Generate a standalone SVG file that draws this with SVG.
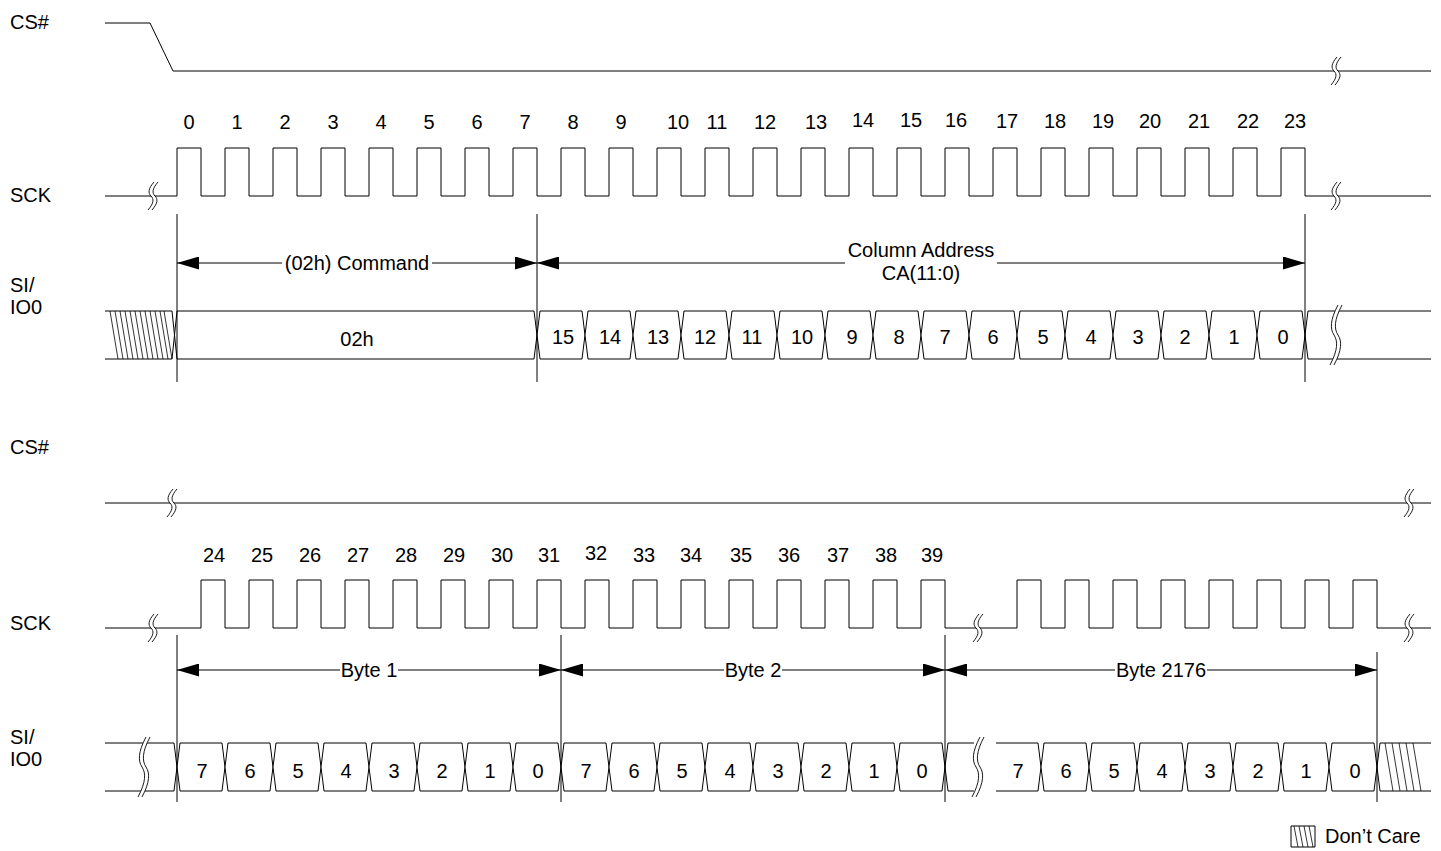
<svg xmlns="http://www.w3.org/2000/svg" width="1441" height="851" viewBox="0 0 1441 851">
<style>
text{font-family:"Liberation Sans",Arial,sans-serif;font-size:20px;fill:#000}
.c{text-anchor:middle}
.w{fill:none;stroke:#000;stroke-width:1}
.cell{fill:#fff;stroke:#000;stroke-width:1}
.v{stroke:#000;stroke-width:1}
.h{stroke:#000;stroke-width:0.8}
.brkfill{fill:#fff;stroke:none}
.brk{fill:none;stroke:#000;stroke-width:0.9}
</style>
<defs>
<marker id="ah" markerWidth="22" markerHeight="13" refX="22" refY="6.5" orient="auto-start-reverse" markerUnits="userSpaceOnUse"><path d="M0,0 L22,6.5 L0,13 Z" fill="#000"/></marker>
<g id="bs">
<path class="brkfill" d="M2,-14 C-4,-7 -4,-3 -1,0 C2,3 2,7 -4,14 L0,14 C6,7 6,3 3,0 C0,-3 0,-7 6,-14 Z"/>
<path class="brk" d="M2,-14 C-4,-7 -4,-3 -1,0 C2,3 2,7 -4,14"/>
<path class="brk" d="M6,-14 C0,-7 0,-3 3,0 C6,3 6,7 0,14"/>
</g>
<g id="bl">
<path class="brkfill" d="M3,-30 C-5,-15 -5,-6 -1,0 C3,6 3,15 -5,30 L-1,30 C7,15 7,6 3,0 C-1,-6 -1,-15 7,-30 Z"/>
<path class="brk" d="M3,-30 C-5,-15 -5,-6 -1,0 C3,6 3,15 -5,30"/>
<path class="brk" d="M7,-30 C-1,-15 -1,-6 3,0 C7,6 7,15 -1,30"/>
</g>
</defs>

<g id="labels">
<text x="10" y="29">CS#</text>
<text x="10" y="202">SCK</text>
<text x="10" y="292">SI/</text>
<text x="10" y="314">IO0</text>
<text x="10" y="454">CS#</text>
<text x="10" y="630">SCK</text>
<text x="10" y="744">SI/</text>
<text x="10" y="766">IO0</text>
</g>

<g id="cs-top">
<path class="w" d="M105,23 H150 L173,71 H1431"/>
<use href="#bs" x="1335" y="71"/>
</g>

<g id="sck-top">
<path class="w" d="M105,196 H177 V148 H201 V196 H225 V148 H249 V196 H273 V148 H297 V196 H321 V148 H345 V196 H369 V148 H393 V196 H417 V148 H441 V196 H465 V148 H489 V196 H513 V148 H537 V196 H561 V148 H585 V196 H609 V148 H633 V196 H657 V148 H681 V196 H705 V148 H729 V196 H753 V148 H777 V196 H801 V148 H825 V196 H849 V148 H873 V196 H897 V148 H921 V196 H945 V148 H969 V196 H993 V148 H1017 V196 H1041 V148 H1065 V196 H1089 V148 H1113 V196 H1137 V148 H1161 V196 H1185 V148 H1209 V196 H1233 V148 H1257 V196 H1281 V148 H1305 V196 H1431"/>
<use href="#bs" x="152" y="196"/>
<use href="#bs" x="1335" y="196"/>
<g class="c">
<text x="189" y="129">0</text><text x="237" y="129">1</text><text x="285" y="129">2</text><text x="333" y="129">3</text><text x="381" y="129">4</text><text x="429" y="129">5</text><text x="477" y="129">6</text><text x="525" y="129">7</text><text x="573" y="129">8</text><text x="621" y="129">9</text><text x="678" y="129">10</text><text x="717" y="129">11</text><text x="765" y="129">12</text><text x="816" y="129">13</text><text x="863" y="127">14</text><text x="911" y="127">15</text><text x="956" y="127">16</text><text x="1007" y="128">17</text><text x="1055" y="128">18</text><text x="1103" y="128">19</text><text x="1150" y="128">20</text><text x="1199" y="128">21</text><text x="1248" y="128">22</text><text x="1295" y="128">23</text>
</g>
</g>

<g id="si-top">
<path class="w" d="M105,311 H172 L174.5,335 L172,359 H105"/>
<g class="h">
<line x1="110" y1="311" x2="118" y2="359"/><line x1="115" y1="311" x2="123" y2="359"/><line x1="120" y1="311" x2="128" y2="359"/><line x1="125" y1="311" x2="133" y2="359"/><line x1="130" y1="311" x2="138" y2="359"/><line x1="135" y1="311" x2="143" y2="359"/><line x1="140" y1="311" x2="148" y2="359"/><line x1="145" y1="311" x2="153" y2="359"/><line x1="150" y1="311" x2="158" y2="359"/><line x1="155" y1="311" x2="163" y2="359"/><line x1="160" y1="311" x2="168" y2="359"/><line x1="164" y1="311" x2="172" y2="359"/>
</g>
<path class="cell" d="M177,311 H534 L537,335 L534,359 H177 L174.5,335 Z"/>
<text class="c" x="357" y="346">02h</text>
<path class="cell" d="M540,311 H582 L585,335 L582,359 H540 L537,335 Z"/>
<path class="cell" d="M588,311 H630 L633,335 L630,359 H588 L585,335 Z"/>
<path class="cell" d="M636,311 H678 L681,335 L678,359 H636 L633,335 Z"/>
<path class="cell" d="M684,311 H726 L729,335 L726,359 H684 L681,335 Z"/>
<path class="cell" d="M732,311 H774 L777,335 L774,359 H732 L729,335 Z"/>
<path class="cell" d="M780,311 H822 L825,335 L822,359 H780 L777,335 Z"/>
<path class="cell" d="M828,311 H870 L873,335 L870,359 H828 L825,335 Z"/>
<path class="cell" d="M876,311 H918 L921,335 L918,359 H876 L873,335 Z"/>
<path class="cell" d="M924,311 H966 L969,335 L966,359 H924 L921,335 Z"/>
<path class="cell" d="M972,311 H1014 L1017,335 L1014,359 H972 L969,335 Z"/>
<path class="cell" d="M1020,311 H1062 L1065,335 L1062,359 H1020 L1017,335 Z"/>
<path class="cell" d="M1068,311 H1110 L1113,335 L1110,359 H1068 L1065,335 Z"/>
<path class="cell" d="M1116,311 H1158 L1161,335 L1158,359 H1116 L1113,335 Z"/>
<path class="cell" d="M1164,311 H1206 L1209,335 L1206,359 H1164 L1161,335 Z"/>
<path class="cell" d="M1212,311 H1254 L1257,335 L1254,359 H1212 L1209,335 Z"/>
<path class="cell" d="M1260,311 H1302 L1305,335 L1302,359 H1260 L1257,335 Z"/>
<path class="w" d="M1431,311 H1308 L1305,335 L1308,359 H1431"/>
<use href="#bl" x="1335" y="335"/>
<g class="c">
<text x="563" y="344">15</text><text x="610" y="344">14</text><text x="658" y="344">13</text><text x="705" y="344">12</text><text x="752" y="344">11</text><text x="802" y="344">10</text><text x="852" y="344">9</text><text x="899" y="344">8</text><text x="945" y="344">7</text><text x="993" y="344">6</text><text x="1043" y="344">5</text><text x="1091" y="344">4</text><text x="1138" y="344">3</text><text x="1185" y="344">2</text><text x="1234" y="344">1</text><text x="1283" y="344">0</text>
</g>
</g>

<g id="cs-bot">
<path class="w" d="M105,503 H1431"/>
<use href="#bs" x="171" y="503"/>
<use href="#bs" x="1408" y="503"/>
</g>

<g id="sck-bot">
<path class="w" d="M105,628 H201 V580 H225 V628 H249 V580 H273 V628 H297 V580 H321 V628 H345 V580 H369 V628 H393 V580 H417 V628 H441 V580 H465 V628 H489 V580 H513 V628 H537 V580 H561 V628 H585 V580 H609 V628 H633 V580 H657 V628 H681 V580 H705 V628 H729 V580 H753 V628 H777 V580 H801 V628 H825 V580 H849 V628 H873 V580 H897 V628 H921 V580 H945 V628 H1017 V580 H1041 V628 H1065 V580 H1089 V628 H1113 V580 H1137 V628 H1161 V580 H1185 V628 H1209 V580 H1233 V628 H1257 V580 H1281 V628 H1305 V580 H1329 V628 H1353 V580 H1377 V628 H1431"/>
<use href="#bs" x="152" y="628"/>
<use href="#bs" x="977" y="628"/>
<use href="#bs" x="1408" y="628"/>
<g class="c">
<text x="214" y="562">24</text><text x="262" y="562">25</text><text x="310" y="562">26</text><text x="358" y="562">27</text><text x="406" y="562">28</text><text x="454" y="562">29</text><text x="502" y="562">30</text><text x="549" y="562">31</text><text x="596" y="560">32</text><text x="644" y="562">33</text><text x="691" y="562">34</text><text x="741" y="562">35</text><text x="789" y="562">36</text><text x="838" y="562">37</text><text x="886" y="562">38</text><text x="932" y="562">39</text>
</g>
</g>

<g id="si-bot">
<path class="w" d="M105,743 H174 L177,767 L174,791 H105"/>
<use href="#bl" x="143" y="767"/>
<path class="cell" d="M180,743 H222 L225,767 L222,791 H180 L177,767 Z"/>
<path class="cell" d="M228,743 H270 L273,767 L270,791 H228 L225,767 Z"/>
<path class="cell" d="M276,743 H318 L321,767 L318,791 H276 L273,767 Z"/>
<path class="cell" d="M324,743 H366 L369,767 L366,791 H324 L321,767 Z"/>
<path class="cell" d="M372,743 H414 L417,767 L414,791 H372 L369,767 Z"/>
<path class="cell" d="M420,743 H462 L465,767 L462,791 H420 L417,767 Z"/>
<path class="cell" d="M468,743 H510 L513,767 L510,791 H468 L465,767 Z"/>
<path class="cell" d="M516,743 H558 L561,767 L558,791 H516 L513,767 Z"/>
<path class="cell" d="M564,743 H606 L609,767 L606,791 H564 L561,767 Z"/>
<path class="cell" d="M612,743 H654 L657,767 L654,791 H612 L609,767 Z"/>
<path class="cell" d="M660,743 H702 L705,767 L702,791 H660 L657,767 Z"/>
<path class="cell" d="M708,743 H750 L753,767 L750,791 H708 L705,767 Z"/>
<path class="cell" d="M756,743 H798 L801,767 L798,791 H756 L753,767 Z"/>
<path class="cell" d="M804,743 H846 L849,767 L846,791 H804 L801,767 Z"/>
<path class="cell" d="M852,743 H894 L897,767 L894,791 H852 L849,767 Z"/>
<path class="cell" d="M900,743 H942 L945,767 L942,791 H900 L897,767 Z"/>
<path class="w" d="M974,743 H948 L945,767 L948,791 H974"/>
<use href="#bl" x="977" y="767"/>
<path class="w" d="M996,743 H1038 L1041,767 L1038,791 H996"/>
<path class="cell" d="M1044,743 H1086 L1089,767 L1086,791 H1044 L1041,767 Z"/>
<path class="cell" d="M1092,743 H1134 L1137,767 L1134,791 H1092 L1089,767 Z"/>
<path class="cell" d="M1140,743 H1182 L1185,767 L1182,791 H1140 L1137,767 Z"/>
<path class="cell" d="M1188,743 H1230 L1233,767 L1230,791 H1188 L1185,767 Z"/>
<path class="cell" d="M1236,743 H1278 L1281,767 L1278,791 H1236 L1233,767 Z"/>
<path class="cell" d="M1284,743 H1326 L1329,767 L1326,791 H1284 L1281,767 Z"/>
<path class="cell" d="M1332,743 H1374 L1377,767 L1374,791 H1332 L1329,767 Z"/>
<path class="w" d="M1431,743 H1380 L1377,767 L1380,791 H1431"/>
<g class="h">
<line x1="1385" y1="743" x2="1393" y2="791"/><line x1="1392" y1="743" x2="1400" y2="791"/><line x1="1399" y1="743" x2="1407" y2="791"/><line x1="1406" y1="743" x2="1414" y2="791"/><line x1="1413" y1="743" x2="1421" y2="791"/>
</g>
<g class="c">
<text x="202" y="778">7</text><text x="250" y="778">6</text><text x="298" y="778">5</text><text x="346" y="778">4</text><text x="394" y="778">3</text><text x="442" y="778">2</text><text x="490" y="778">1</text><text x="538" y="778">0</text>
<text x="586" y="778">7</text><text x="634" y="778">6</text><text x="682" y="778">5</text><text x="730" y="778">4</text><text x="778" y="778">3</text><text x="826" y="778">2</text><text x="874" y="778">1</text><text x="922" y="778">0</text>
<text x="1018" y="778">7</text><text x="1066" y="778">6</text><text x="1114" y="778">5</text><text x="1162" y="778">4</text><text x="1210" y="778">3</text><text x="1258" y="778">2</text><text x="1306" y="778">1</text><text x="1355" y="778">0</text>
</g>
</g>

<g id="connectors">
<line class="v" x1="177" y1="214" x2="177" y2="382"/>
<line class="v" x1="537" y1="214" x2="537" y2="382"/>
<line class="v" x1="1305" y1="214" x2="1305" y2="382"/>
<line class="v" x1="177" y1="635" x2="177" y2="802"/>
<line class="v" x1="561" y1="635" x2="561" y2="802"/>
<line class="v" x1="945" y1="635" x2="945" y2="802"/>
<line class="v" x1="1377" y1="652" x2="1377" y2="802"/>
<line class="w" x1="177" y1="263" x2="282" y2="263" marker-start="url(#ah)"/>
<line class="w" x1="432" y1="263" x2="537" y2="263" marker-end="url(#ah)"/>
<line class="w" x1="537" y1="263" x2="845" y2="263" marker-start="url(#ah)"/>
<line class="w" x1="997" y1="263" x2="1305" y2="263" marker-end="url(#ah)"/>
<line class="w" x1="177" y1="670" x2="340" y2="670" marker-start="url(#ah)"/>
<line class="w" x1="398" y1="670" x2="561" y2="670" marker-end="url(#ah)"/>
<line class="w" x1="561" y1="670" x2="724" y2="670" marker-start="url(#ah)"/>
<line class="w" x1="782" y1="670" x2="945" y2="670" marker-end="url(#ah)"/>
<line class="w" x1="945" y1="670" x2="1115" y2="670" marker-start="url(#ah)"/>
<line class="w" x1="1207" y1="670" x2="1377" y2="670" marker-end="url(#ah)"/>
<text class="c" x="357" y="270">(02h) Command</text>
<text class="c" x="921" y="257">Column Address</text>
<text class="c" x="921" y="280">CA(11:0)</text>
<text class="c" x="369" y="677">Byte 1</text>
<text class="c" x="753" y="677">Byte 2</text>
<text class="c" x="1161" y="677">Byte 2176</text>
</g>

<g id="legend">
<path class="w" d="M1291,826 H1315 V847 H1291 Z"/>
<g class="h">
<line x1="1294" y1="826" x2="1298" y2="847"/><line x1="1299" y1="826" x2="1303" y2="847"/><line x1="1304" y1="826" x2="1308" y2="847"/><line x1="1309" y1="826" x2="1313" y2="847"/>
</g>
<text x="1325" y="843">Don’t Care</text>
</g>
</svg>
